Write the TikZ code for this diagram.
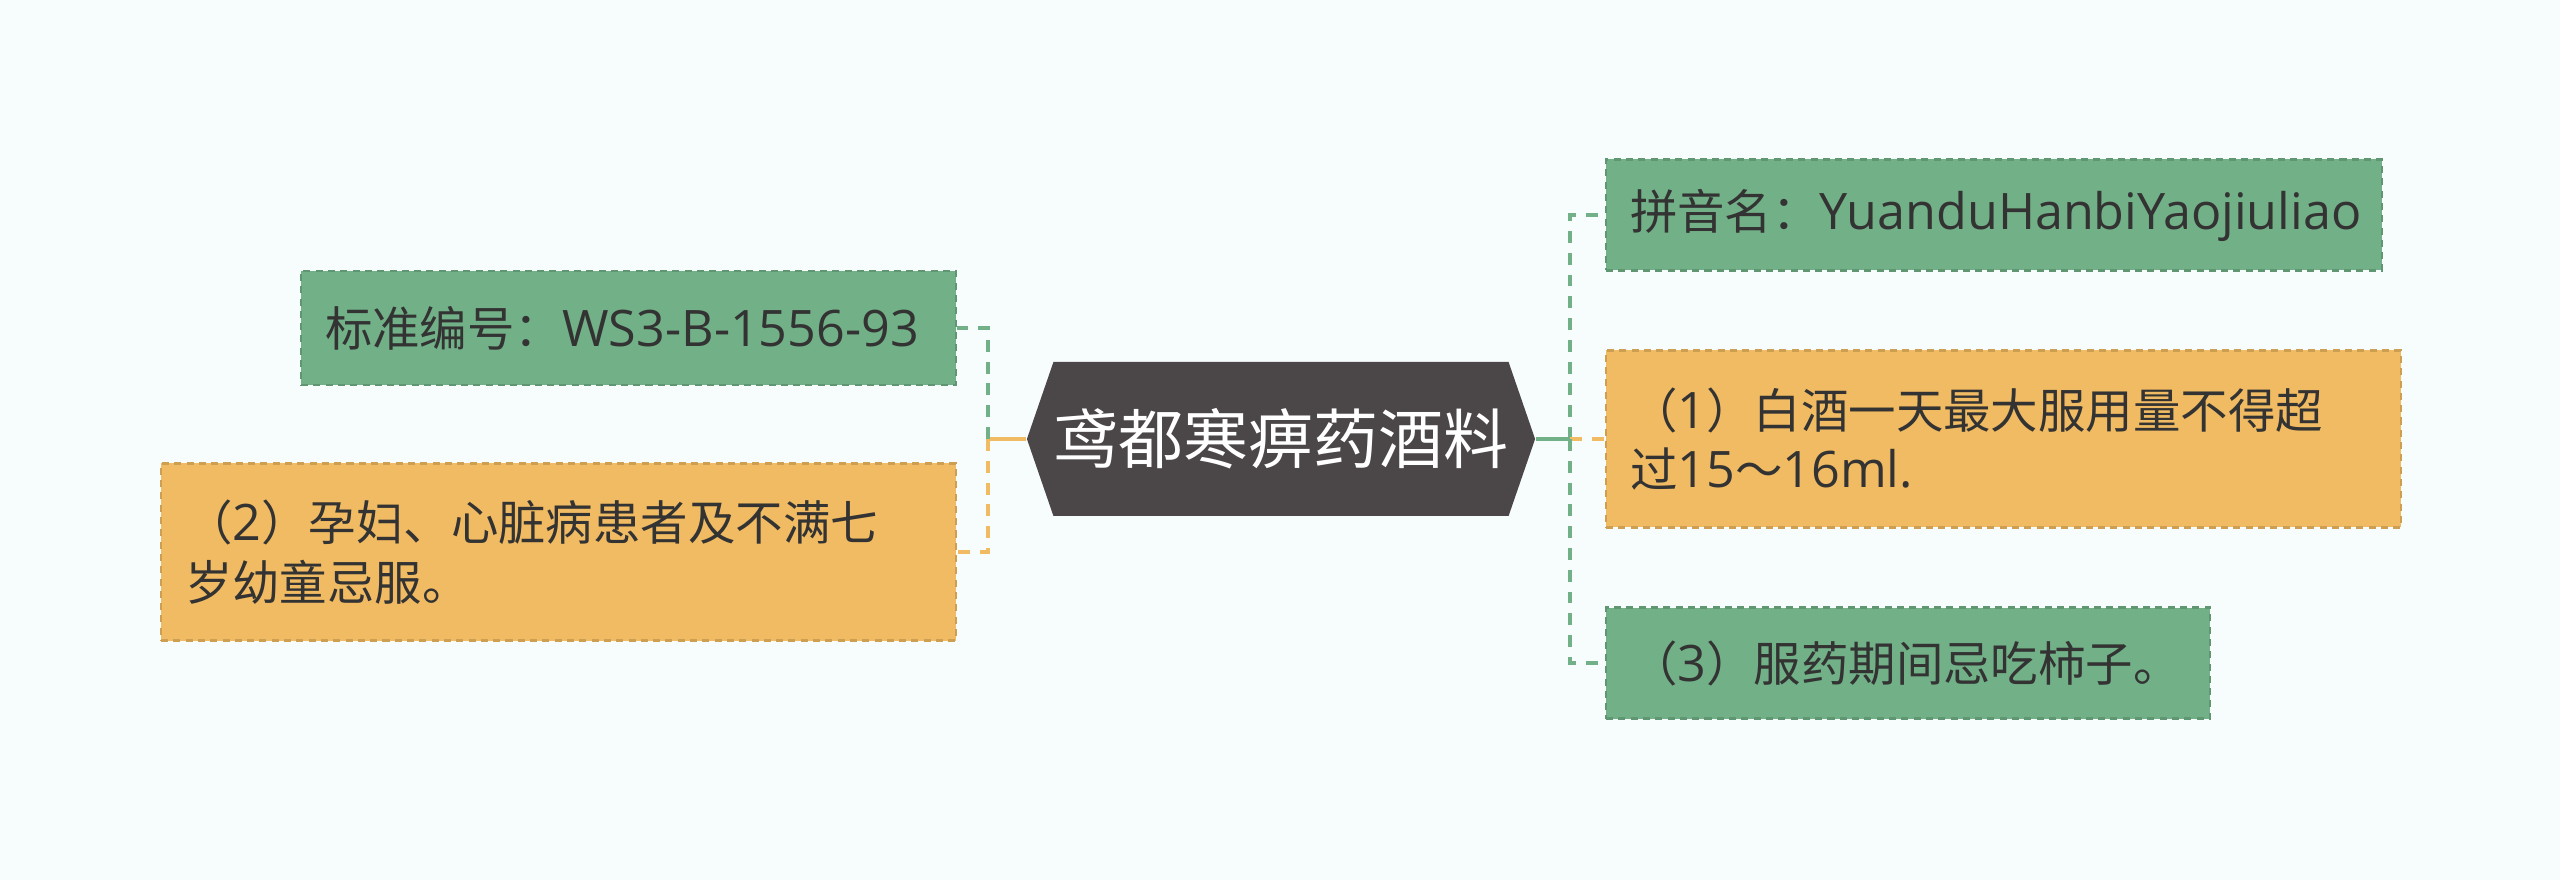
\documentclass[tikz,border=0pt]{standalone}
\usepackage{fontspec}
\setmainfont{Noto Sans CJK SC}
\newfontfamily\latin[Scale=1.06]{Open Sans}
\usetikzlibrary{shapes.symbols}
\definecolor{bgcol}{HTML}{F7FCFD}
\definecolor{leafgreen}{HTML}{72B087}
\definecolor{leaforange}{HTML}{F0BB62}
\definecolor{rootgray}{HTML}{4B4647}
\definecolor{inkgray}{HTML}{333333}

\begin{document}
\begin{tikzpicture}[
  leaf/.style={rectangle, anchor=west, align=left, inner xsep=0.24cm, inner ysep=0pt,
    text=inkgray, font=\fontsize{13.5pt}{17pt}\selectfont, draw, line width=0.6pt,
    dash pattern=on 2pt off 1.5pt},
  greenleaf/.style={leaf, fill=leafgreen, draw=leafgreen!85!black},
  orangeleaf/.style={leaf, fill=leaforange, draw=leaforange!85!black},
  gline/.style={draw=leafgreen, line width=1pt, dash pattern=on 3.4pt off 2.8pt},
  oline/.style={draw=leaforange, line width=1pt, dash pattern=on 3.4pt off 2.8pt},
  gstub/.style={draw=leafgreen, line width=1.2pt},
  ostub/.style={draw=leaforange, line width=1.2pt}]
\fill[bgcol] (0,0) rectangle (25.6,8.8);
\useasboundingbox (0,0) rectangle (25.6,8.8);

\node (root) at (12.81,4.41) [signal, signal to=west and east, signal pointer angle=142,
  fill=rootgray, text=white, minimum width=5.0cm, minimum height=1.54cm, inner sep=0pt,
  font=\fontsize{18.5pt}{20pt}\selectfont] {鸢都寒痹药酒料};

\node (std) at (3.00,5.52) [greenleaf, text width=6.07cm, minimum height=1.14cm]
  {标准编号：{\latin WS3-B-1556-93}};
\node (warn) at (1.60,3.28) [orangeleaf, text width=7.47cm, minimum height=1.77cm]
  {（{\latin 2}）孕妇、心脏病患者及不满七\\岁幼童忌服。};
\node (pinyin) at (16.05,6.65) [greenleaf, text width=7.28cm, minimum height=1.11cm]
  {拼音名：{\latin YuanduHanbiYaojiuliao}};
\node (dose) at (16.05,4.41) [orangeleaf, text width=7.47cm, minimum height=1.77cm]
  {（{\latin 1}）白酒一天最大服用量不得超\\过{\latin 15}～{\latin 16ml.}};
\node (taboo) at (16.05,2.17) [greenleaf, text width=5.56cm, minimum height=1.11cm]
  {（{\latin 3}）服药期间忌吃柿子。};

\coordinate (lj) at (9.88,4.41);
\coordinate (rj) at (15.70,4.41);

\draw[ostub] (root.west) -- (lj);
\draw[gline] (lj) |- (std.east);
\draw[oline] (lj) |- (warn.east);
\draw[gstub] (root.east) -- (rj);
\draw[gline] (rj) |- (pinyin.west);
\draw[oline] (rj) -- (dose.west);
\draw[gline] (rj) |- (taboo.west);
\end{tikzpicture}
\end{document}
